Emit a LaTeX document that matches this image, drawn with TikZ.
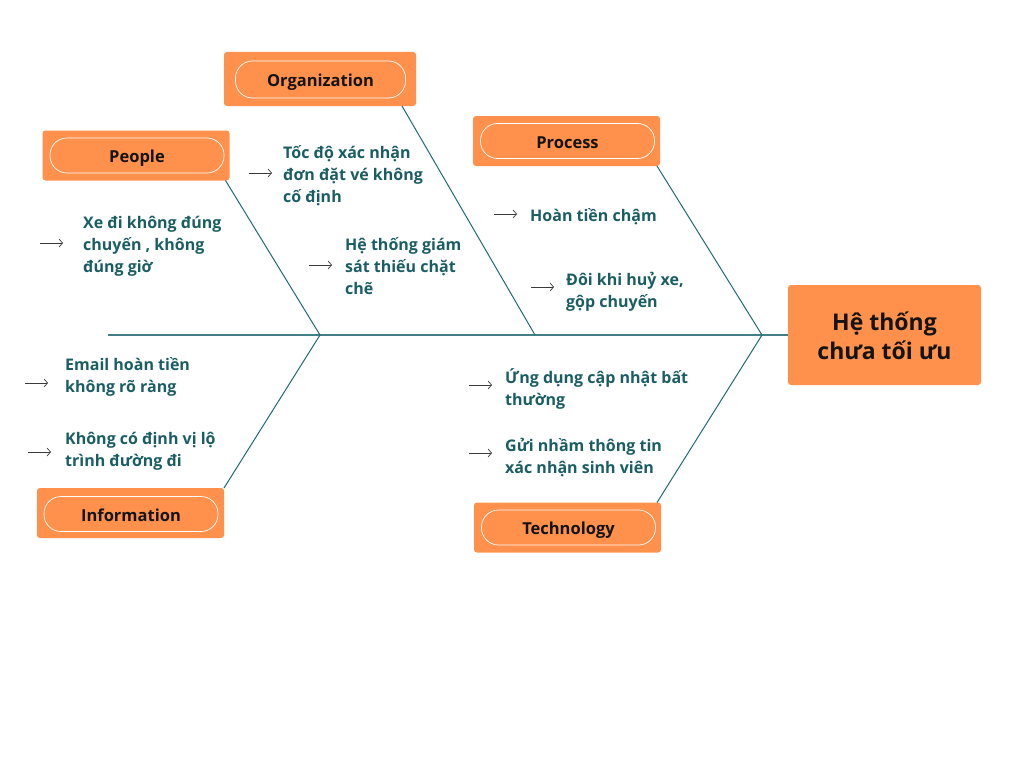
\documentclass[tikz,border=0pt]{standalone}
\usepackage{fontspec}
\setmainfont{Open Sans}
\usetikzlibrary{arrows.meta}
\definecolor{orangeC}{HTML}{FF914D}
\definecolor{tealT}{HTML}{1A5E63}
\definecolor{boneC}{HTML}{226A6F}
\definecolor{arrC}{HTML}{3A3A3A}
\begin{document}
\begin{tikzpicture}[x=1pt,y=-1pt,
 catbox/.style={fill=orangeC, rounded corners=3pt, minimum width=187pt, minimum height=50pt, inner sep=0pt, outer sep=0pt},
 pill/.style={draw=white, line width=0.7pt, rounded corners=17pt, minimum width=174pt, minimum height=35pt, inner sep=0pt, font=\fontsize{16.5}{20}\selectfont\bfseries, text=black!92, text height=14pt, text depth=0pt},
 item/.style={anchor=base west, inner sep=0pt, text=tealT, font=\fontsize{16}{22}\selectfont\bfseries},
 bone/.style={draw=boneC, line width=1pt},
 spine/.style={draw=boneC!85, line width=1.4pt},
 itemarrow/.style={draw=arrC, line width=0.7pt, -{Straight Barb[length=3.5pt,width=8pt]}},
]
\useasboundingbox (0,0) rectangle (1024,768);
\fill[white] (0,0) rectangle (1024,768);

% effect
\node[fill=orangeC, rounded corners=3pt, minimum width=193pt, minimum height=100pt, inner sep=0pt] (effect) at (884.5,335) {};
\node[anchor=base, inner sep=0pt, text=black!92, font=\fontsize{23}{29}\selectfont\bfseries] (effectText) at (884.5,330)
  {\begin{tabular}[t]{@{}c@{}}Hệ thống\\chưa tối ưu\end{tabular}};

% category boxes
\node[catbox] (peopleBox) at (136,155.5) {};
\node[pill] (people) at (137,155.5) {People};
\node[catbox, minimum width=192pt, minimum height=54pt] (orgBox) at (320,79) {};
\node[pill, minimum width=170pt, minimum height=37pt] (org) at (320.5,79.5) {Organization};
\node[catbox] (procBox) at (566.5,141) {};
\node[pill] (proc) at (567.5,141) {Process};
\node[catbox] (infoBox) at (130.5,513) {};
\node[pill] (info) at (131,514) {Information};
\node[catbox] (techBox) at (567.5,527.5) {};
\node[pill] (tech) at (568.5,527.5) {Technology};

% joints
\coordinate (tail) at (108,335);
\coordinate (j1) at (320,335);
\coordinate (j2) at (535,335);
\coordinate (j3) at (762,335);

% spine and bones
\draw[spine] (tail) -- (effect.west);
\draw[bone] ([xshift=-4pt]peopleBox.south east) -- (j1);
\draw[bone] (infoBox.north east) -- (j1);
\draw[bone] ([xshift=-14pt]orgBox.south east) -- (j2);
\draw[bone] ([xshift=-3pt]procBox.south east) -- (j3);
\draw[bone] ([xshift=-4pt]techBox.north east) -- (j3);

% causes
\node[item] (c1) at (83,228) {\begin{tabular}[t]{@{}l@{}}Xe đi không đúng\\chuyến , không\\đúng giờ\end{tabular}};
\node[item] (c2) at (283,158) {\begin{tabular}[t]{@{}l@{}}Tốc độ xác nhận\\đơn đặt vé không\\cố định\end{tabular}};
\node[item] (c3) at (345,250.5) {\begin{tabular}[t]{@{}l@{}}Hệ thống giám\\sát thiếu chặt\\chẽ\end{tabular}};
\node[item] (c4) at (530,221.5) {\begin{tabular}[t]{@{}l@{}}Hoàn tiền chậm\end{tabular}};
\node[item] (c5) at (566,285) {\begin{tabular}[t]{@{}l@{}}Đôi khi huỷ xe,\\gộp chuyến\end{tabular}};
\node[item] (c6) at (65,370.5) {\begin{tabular}[t]{@{}l@{}}Email hoàn tiền\\không rõ ràng\end{tabular}};
\node[item] (c7) at (65,444) {\begin{tabular}[t]{@{}l@{}}Không có định vị lộ\\trình đường đi\end{tabular}};
\node[item] (c8) at (505,383) {\begin{tabular}[t]{@{}l@{}}Ứng dụng cập nhật bất\\thường\end{tabular}};
\node[item] (c9) at (505,451.5) {\begin{tabular}[t]{@{}l@{}}Gửi nhầm thông tin\\xác nhận sinh viên\end{tabular}};

% small arrows
\coordinate (a1) at (40,243);
\coordinate (a2) at (249,173);
\coordinate (a3) at (309,265);
\coordinate (a4) at (494,214);
\coordinate (a5) at (531,287);
\coordinate (a6) at (25,383);
\coordinate (a7) at (28,452);
\coordinate (a8) at (469,385);
\coordinate (a9) at (469,453);
\foreach \a in {a1,a2,a3,a4,a5,a6,a7,a8,a9}
  \draw[itemarrow] (\a) -- ++(23,0);
\end{tikzpicture}
\end{document}
